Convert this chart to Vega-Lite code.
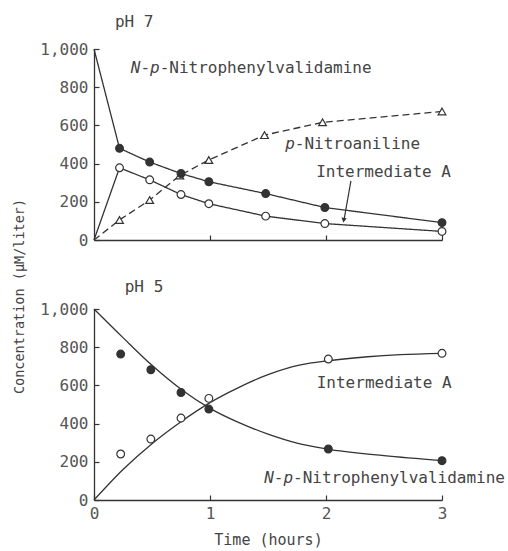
{
  "$schema": "https://vega.github.io/schema/vega-lite/v6.json",
  "background": "white",
  "padding": {"left": 11, "top": 14, "right": 2, "bottom": 4},
  "spacing": 69,
  "bounds": "flush",
  "config": {
    "view": {"stroke": null},
    "font": "DejaVu Sans Mono",
    "axis": {
      "grid": false,
      "domainColor": "#333",
      "domainWidth": 1.3,
      "tickColor": "#333",
      "tickWidth": 1.2,
      "tickSize": -5,
      "labelOverlap": false,
      "labelFont": "DejaVu Sans Mono",
      "labelFontSize": 16,
      "labelColor": "#555",
      "titleFont": "DejaVu Sans Mono",
      "titleFontWeight": "normal",
      "titleColor": "#444"
    }
  },
  "datasets": {
    "ph7": [
      {"series": "N", "t": 0, "c": 1000},
      {"series": "N", "t": 0.22, "c": 480},
      {"series": "N", "t": 0.48, "c": 408},
      {"series": "N", "t": 0.75, "c": 348},
      {"series": "N", "t": 0.99, "c": 305},
      {"series": "N", "t": 1.48, "c": 243},
      {"series": "N", "t": 1.99, "c": 170},
      {"series": "N", "t": 3.0, "c": 91},
      {"series": "I", "t": 0, "c": 0},
      {"series": "I", "t": 0.22, "c": 378},
      {"series": "I", "t": 0.48, "c": 315},
      {"series": "I", "t": 0.75, "c": 238},
      {"series": "I", "t": 0.99, "c": 190},
      {"series": "I", "t": 1.48, "c": 125},
      {"series": "I", "t": 1.99, "c": 86},
      {"series": "I", "t": 3.0, "c": 45},
      {"series": "P", "t": 0, "c": 0},
      {"series": "P", "t": 0.22, "c": 105},
      {"series": "P", "t": 0.48, "c": 209},
      {"series": "P", "t": 0.74, "c": 338},
      {"series": "P", "t": 0.99, "c": 419},
      {"series": "P", "t": 1.47, "c": 549},
      {"series": "P", "t": 1.97, "c": 616},
      {"series": "P", "t": 3.0, "c": 673}
    ],
    "fit5": [
      {"series": "N", "t": 0, "c": 1000},
      {"series": "N", "t": 0.25, "c": 850},
      {"series": "N", "t": 0.5, "c": 705},
      {"series": "N", "t": 0.75, "c": 580},
      {"series": "N", "t": 1.0, "c": 480},
      {"series": "N", "t": 1.25, "c": 405},
      {"series": "N", "t": 1.5, "c": 345},
      {"series": "N", "t": 1.75, "c": 298},
      {"series": "N", "t": 2.0, "c": 268},
      {"series": "N", "t": 2.5, "c": 232},
      {"series": "N", "t": 3.0, "c": 206},
      {"series": "I", "t": 0, "c": 0},
      {"series": "I", "t": 0.25, "c": 160},
      {"series": "I", "t": 0.5, "c": 295},
      {"series": "I", "t": 0.75, "c": 410},
      {"series": "I", "t": 1.0, "c": 510},
      {"series": "I", "t": 1.25, "c": 590},
      {"series": "I", "t": 1.5, "c": 656},
      {"series": "I", "t": 1.78, "c": 707},
      {"series": "I", "t": 2.02, "c": 729},
      {"series": "I", "t": 2.36, "c": 750},
      {"series": "I", "t": 2.64, "c": 761},
      {"series": "I", "t": 3.0, "c": 768}
    ],
    "pts5": [
      {"series": "N", "t": 0.23, "c": 764},
      {"series": "N", "t": 0.49, "c": 682},
      {"series": "N", "t": 0.75, "c": 563},
      {"series": "N", "t": 0.99, "c": 476},
      {"series": "N", "t": 2.02, "c": 267},
      {"series": "N", "t": 3.0, "c": 206},
      {"series": "I", "t": 0.23, "c": 241},
      {"series": "I", "t": 0.49, "c": 319},
      {"series": "I", "t": 0.75, "c": 429},
      {"series": "I", "t": 0.99, "c": 532},
      {"series": "I", "t": 2.02, "c": 738},
      {"series": "I", "t": 3.0, "c": 768}
    ],
    "plain7": [
      {"t": 0.18, "c": 1139, "label": "pH 7"},
      {"t": 1.915, "c": 355, "label": "Intermediate A"}
    ],
    "rest7": [
      {"t": 0.317, "c": 900, "label": "-\u00a0-Nitrophenylvalidamine"},
      {"t": 1.648, "c": 505, "label": "-Nitroaniline"}
    ],
    "italic7": [
      {"t": 0.317, "c": 900, "label": "N\u00a0p"},
      {"t": 1.648, "c": 505, "label": "p"}
    ],
    "plain5": [
      {"t": 0.265, "c": 1113, "label": "pH 5"},
      {"t": 1.92, "c": 611, "label": "Intermediate A"}
    ],
    "rest5": [
      {"t": 1.467, "c": 117, "label": "-\u00a0-Nitrophenylvalidamine"}
    ],
    "italic5": [
      {"t": 1.467, "c": 117, "label": "N\u00a0p"}
    ],
    "arrow7": [
      {"t": 2.215, "c": 310, "t2": 2.155, "c2": 104}
    ],
    "head7": [
      {"t": 2.153, "c": 104}
    ]
  },
  "vconcat": [
    {
      "width": 348,
      "height": 191,
      "layer": [
        {
          "data": {"name": "ph7"},
          "mark": {"type": "line", "color": "#333", "strokeWidth": 1.3},
          "encoding": {
            "x": {"field": "t", "type": "quantitative", "scale": {"domain": [0, 3], "nice": false},
                  "axis": {"values": [1, 2, 3], "tickCount": 10, "labels": false, "title": null}},
            "y": {"field": "c", "type": "quantitative", "scale": {"domain": [0, 1000], "nice": false},
                  "axis": {"values": [0, 200, 400, 600, 800, 1000], "tickCount": 10, "format": ",d", "title": null, "labelPadding": 11, "labelOverlap": false, "labelBound": false, "labelFlush": false}},
            "detail": {"field": "series"},
            "strokeDash": {"field": "series", "type": "nominal",
                           "scale": {"domain": ["N", "I", "P"], "range": [[1, 0], [1, 0], [7, 4]]}, "legend": null}
          }
        },
        {
          "data": {"name": "ph7"},
          "transform": [{"filter": "datum.t > 0"}],
          "mark": {"type": "point", "filled": true, "size": 60, "stroke": "#333", "strokeWidth": 1.2, "opacity": 1},
          "encoding": {
            "x": {"field": "t", "type": "quantitative"},
            "y": {"field": "c", "type": "quantitative"},
            "shape": {"field": "series", "type": "nominal",
                      "scale": {"domain": ["N", "I", "P"], "range": ["circle", "circle", "triangle-up"]}, "legend": null},
            "fill": {"field": "series", "type": "nominal",
                     "scale": {"domain": ["N", "I", "P"], "range": ["#333", "white", "white"]}, "legend": null},
            "order": {"field": "series", "sort": "descending"}
          }
        },
        {
          "data": {"name": "plain7"},
          "mark": {"type": "text", "align": "left", "baseline": "middle", "font": "DejaVu Sans Mono", "fontSize": 16, "color": "#444"},
          "encoding": {
            "x": {"field": "t", "type": "quantitative"},
            "y": {"field": "c", "type": "quantitative"},
            "text": {"field": "label"}
          }
        },
        {
          "data": {"name": "rest7"},
          "mark": {"type": "text", "align": "left", "baseline": "middle", "dx": 9.63, "font": "DejaVu Sans Mono", "fontSize": 16, "color": "#444"},
          "encoding": {
            "x": {"field": "t", "type": "quantitative"},
            "y": {"field": "c", "type": "quantitative"},
            "text": {"field": "label"}
          }
        },
        {
          "data": {"name": "italic7"},
          "mark": {"type": "text", "align": "left", "baseline": "middle", "font": "DejaVu Sans Mono", "fontStyle": "italic", "fontSize": 16, "color": "#444"},
          "encoding": {
            "x": {"field": "t", "type": "quantitative"},
            "y": {"field": "c", "type": "quantitative"},
            "text": {"field": "label"}
          }
        },
        {
          "data": {"name": "arrow7"},
          "mark": {"type": "rule", "color": "#333", "strokeWidth": 1.2},
          "encoding": {
            "x": {"field": "t", "type": "quantitative"},
            "y": {"field": "c", "type": "quantitative"},
            "x2": {"field": "t2"},
            "y2": {"field": "c2"}
          }
        },
        {
          "data": {"name": "head7"},
          "mark": {"type": "point", "shape": "triangle-down", "filled": true, "size": 28, "angle": 10, "color": "#333", "opacity": 1},
          "encoding": {
            "x": {"field": "t", "type": "quantitative"},
            "y": {"field": "c", "type": "quantitative"}
          }
        }
      ]
    },
    {
      "width": 348,
      "height": 191,
      "layer": [
        {
          "data": {"name": "fit5"},
          "mark": {"type": "line", "color": "#333", "strokeWidth": 1.3, "interpolate": "monotone"},
          "encoding": {
            "x": {"field": "t", "type": "quantitative", "scale": {"domain": [0, 3], "nice": false},
                  "axis": {"values": [0, 1, 2, 3], "tickCount": 10, "format": "d", "title": "Time (hours)", "titleFontSize": 15, "labelPadding": 10, "titlePadding": 11, "labelOverlap": false, "labelFlush": false}},
            "y": {"field": "c", "type": "quantitative", "scale": {"domain": [0, 1000], "nice": false},
                  "axis": {"values": [0, 200, 400, 600, 800, 1000], "tickCount": 10, "format": ",d", "labelPadding": 11, "labelOverlap": false, "labelBound": false, "labelFlush": false,
                           "title": "Concentration (μM/liter)", "titleFontSize": 13.5,
                           "titleX": -75, "titleY": -13, "titleAlign": "center", "titleBaseline": "middle", "titleAngle": 270}},
            "detail": {"field": "series"}
          }
        },
        {
          "data": {"name": "pts5"},
          "mark": {"type": "point", "filled": true, "size": 60, "stroke": "#333", "strokeWidth": 1.2, "opacity": 1},
          "encoding": {
            "x": {"field": "t", "type": "quantitative"},
            "y": {"field": "c", "type": "quantitative"},
            "shape": {"value": "circle"},
            "fill": {"field": "series", "type": "nominal",
                     "scale": {"domain": ["N", "I"], "range": ["#333", "white"]}, "legend": null}
          }
        },
        {
          "data": {"name": "plain5"},
          "mark": {"type": "text", "align": "left", "baseline": "middle", "font": "DejaVu Sans Mono", "fontSize": 16, "color": "#444"},
          "encoding": {
            "x": {"field": "t", "type": "quantitative"},
            "y": {"field": "c", "type": "quantitative"},
            "text": {"field": "label"}
          }
        },
        {
          "data": {"name": "rest5"},
          "mark": {"type": "text", "align": "left", "baseline": "middle", "dx": 9.63, "font": "DejaVu Sans Mono", "fontSize": 16, "color": "#444"},
          "encoding": {
            "x": {"field": "t", "type": "quantitative"},
            "y": {"field": "c", "type": "quantitative"},
            "text": {"field": "label"}
          }
        },
        {
          "data": {"name": "italic5"},
          "mark": {"type": "text", "align": "left", "baseline": "middle", "font": "DejaVu Sans Mono", "fontStyle": "italic", "fontSize": 16, "color": "#444"},
          "encoding": {
            "x": {"field": "t", "type": "quantitative"},
            "y": {"field": "c", "type": "quantitative"},
            "text": {"field": "label"}
          }
        }
      ]
    }
  ]
}
